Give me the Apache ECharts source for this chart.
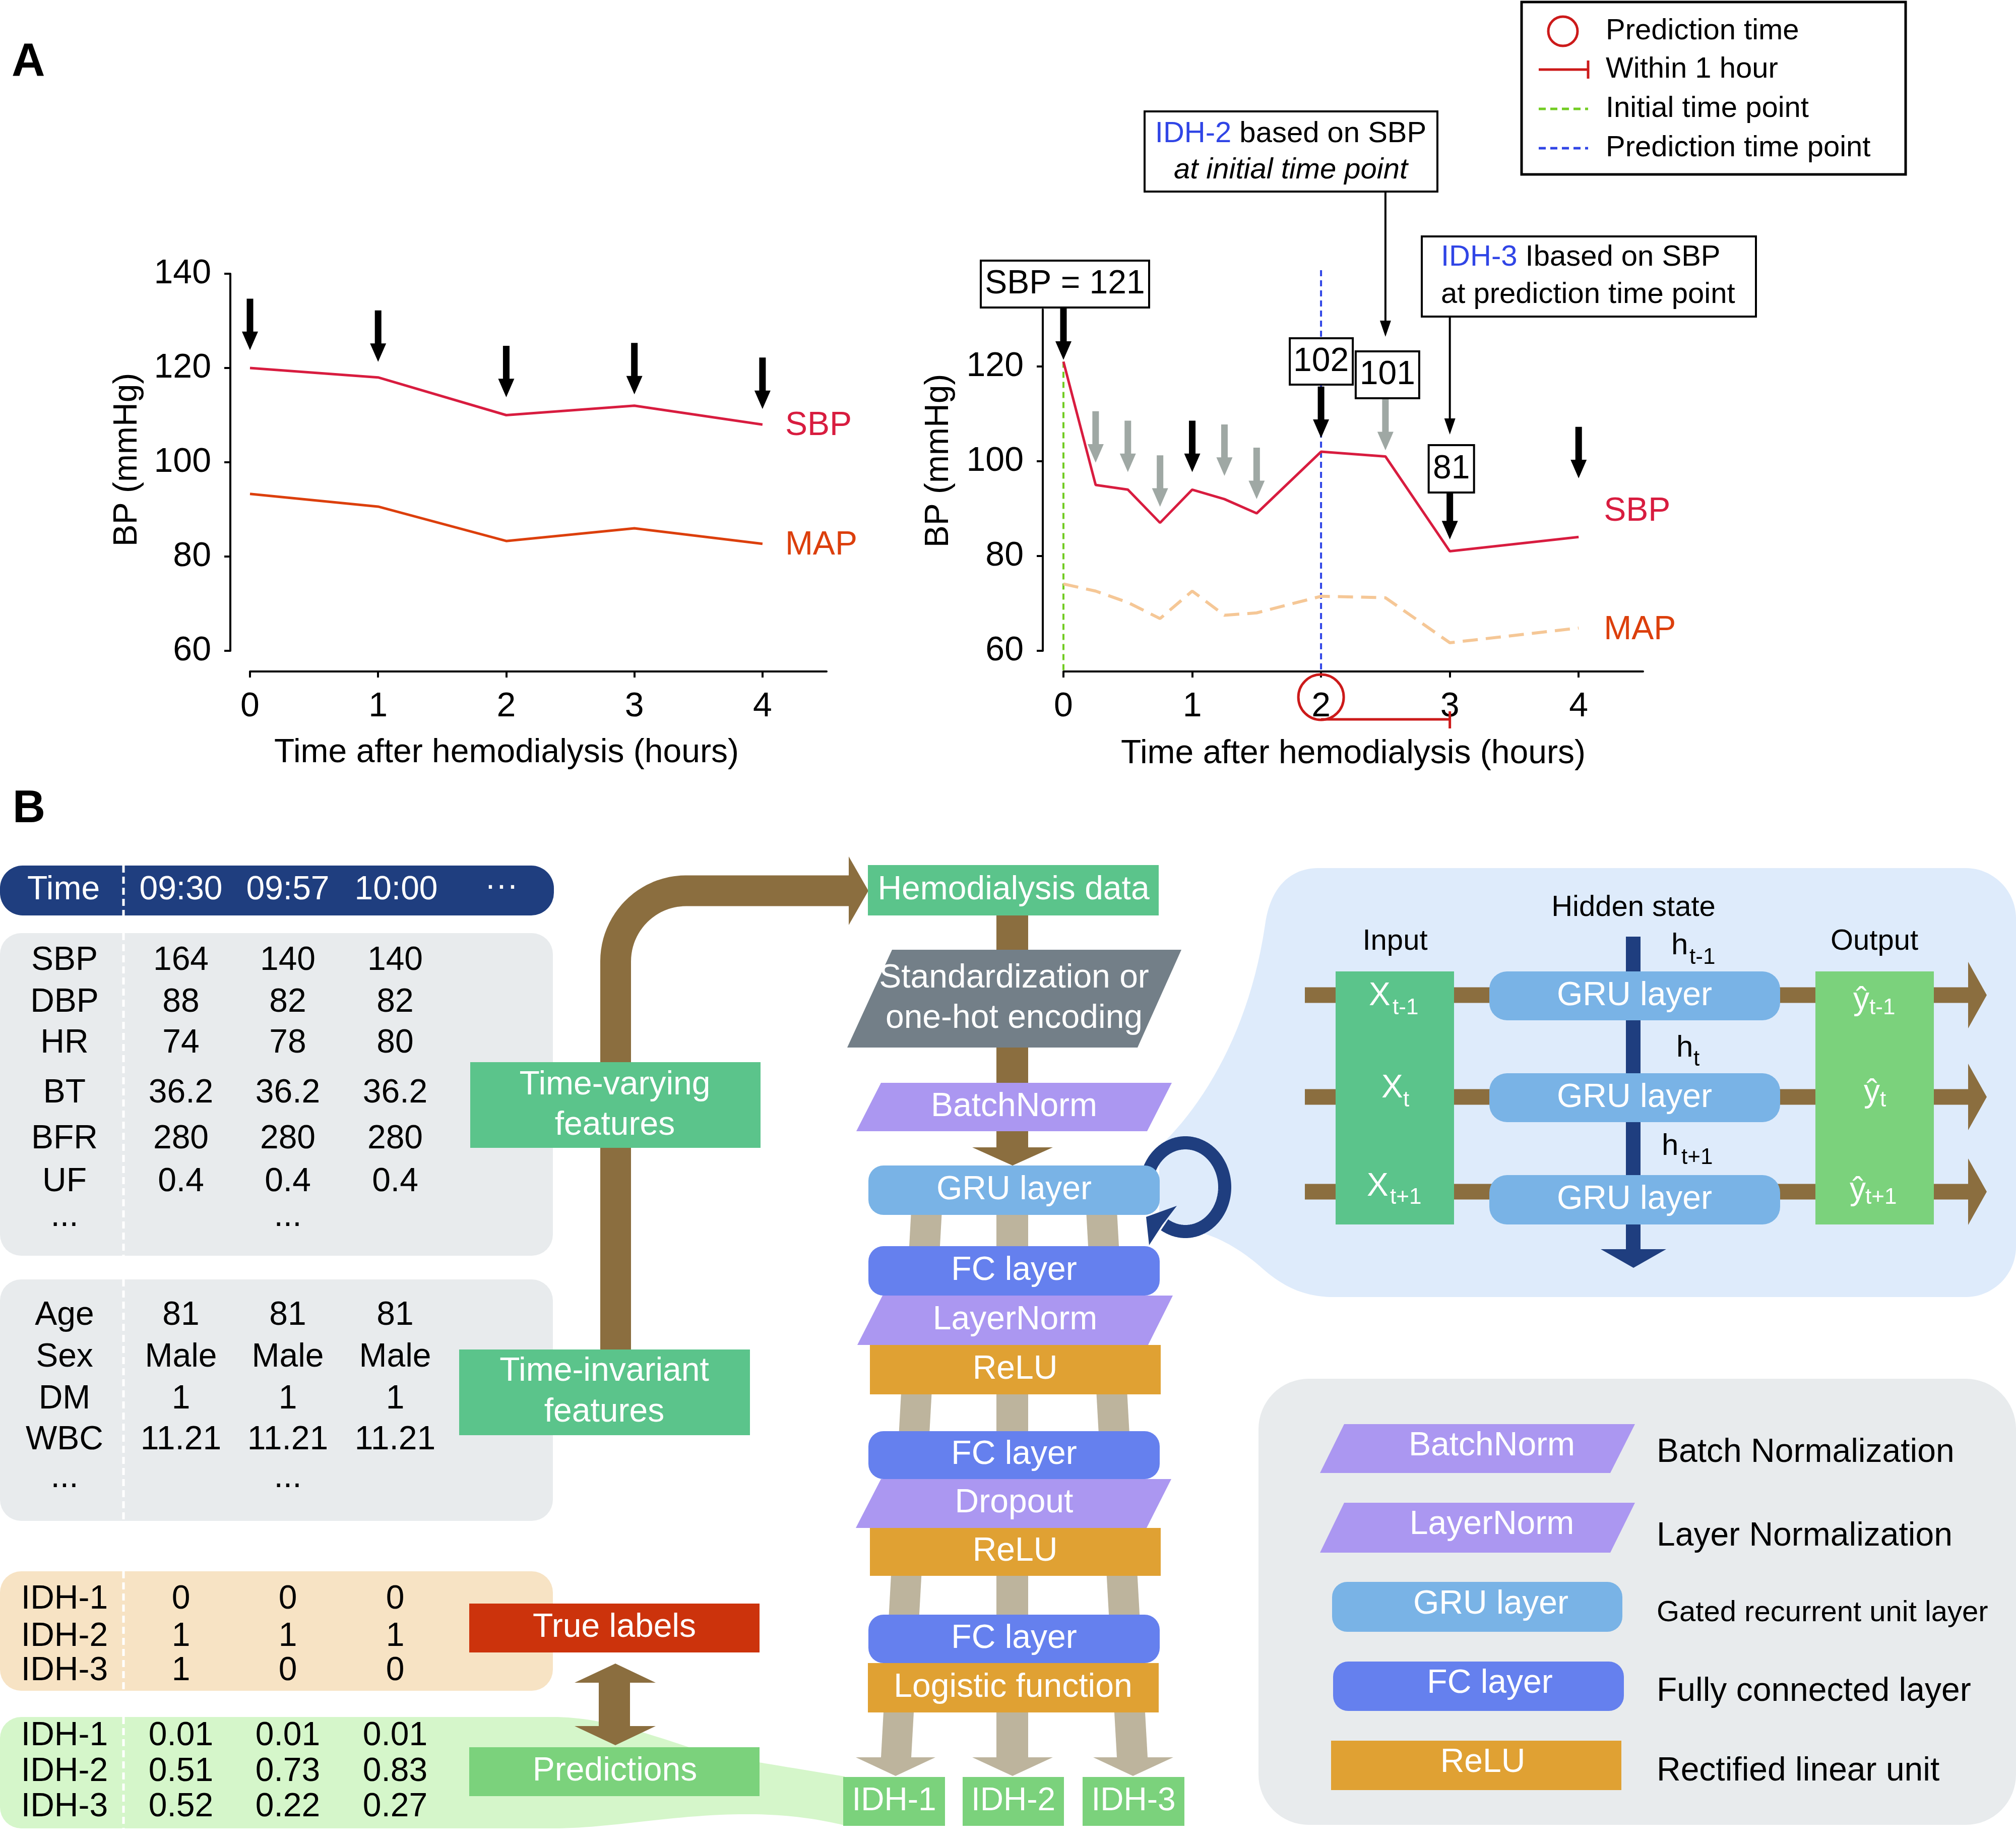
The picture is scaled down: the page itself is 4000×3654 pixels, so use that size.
<!DOCTYPE html>
<html>
<head>
<meta charset="utf-8">
<script src="https://cdn.jsdelivr.net/npm/echarts@6/dist/echarts.min.js"></script>
<style>html,body{margin:0;padding:0;background:#fff}#c{width:4000px;height:3654px}</style>
</head>
<body>
<div id="c"></div>
<script>
const FONT = '"Liberation Sans", Arial, Helvetica, sans-serif';

// ---------------- Panel A data ----------------
const hoursLeft = [0, 1, 2, 3, 4];
const sbpLeft = [120, 118, 110, 112, 108];
const mapLeft = [93.3, 90.6, 83.3, 86.0, 82.7];
const arrowTipLeft = [123.8, 121.3, 113.8, 114.4, 111.3];

const hoursRight = [0, 0.25, 0.5, 0.75, 1, 1.25, 1.5, 2, 2.5, 3, 4];
const sbpRight = [121, 95, 94, 87, 94, 92, 89, 102, 101, 81, 84];
const mapRight = [74.1, 72.6, 70.2, 66.8, 72.6, 67.5, 68.0, 71.5, 71.2, 61.7, 64.8];
const blackArrowHours = [0, 1, 2, 3, 4];
const blackArrowTip = [121.4, 97.7, 104.9, 83.5, 96.4];
const grayArrowHours = [0.25, 0.5, 0.75, 1.25, 1.5, 2.5];
const grayArrowTip = [99.7, 97.7, 90.4, 96.9, 92.0, 102.3];

const xTicks = [0, 1, 2, 3, 4];
const leftYTicks = [60, 80, 100, 120, 140];
const rightYTicks = [60, 80, 100, 120];
const initialTime = 0, predictionTime = 2, horizonTime = 3;

// ---------------- Panel B data ----------------
const timeLabels = ['09:30', '09:57', '10:00'];
const varyingFeatures = ['SBP', 'DBP', 'HR', 'BT', 'BFR', 'UF'];
const varyingValues = [[164, 140, 140], [88, 82, 82], [74, 78, 80], [36.2, 36.2, 36.2], [280, 280, 280], [0.4, 0.4, 0.4]];
const invariantFeatures = ['Age', 'Sex', 'DM', 'WBC'];
const invariantValues = [[81, 81, 81], ['Male', 'Male', 'Male'], [1, 1, 1], [11.21, 11.21, 11.21]];
const idhLabels = ['IDH-1', 'IDH-2', 'IDH-3'];
const trueLabels = [[0, 0, 0], [1, 1, 1], [1, 0, 0]];
const predictions = [[0.01, 0.01, 0.01], [0.51, 0.73, 0.83], [0.52, 0.22, 0.27]];
const legendItems = [
  ['BatchNorm', 'Batch Normalization'],
  ['LayerNorm', 'Layer Normalization'],
  ['GRU layer', 'Gated recurrent unit layer'],
  ['FC layer', 'Fully connected layer'],
  ['ReLU', 'Rectified linear unit']
];

// ---------------- colours ----------------
const C = {
  sbp: '#d81c3f', map: '#dc3f0c', mapLight: '#f5c796', gray: '#9fa8a4',
  navy: '#1f3e7f', brown: '#8b6e3f', tan: '#bdb49d', green: '#5bc48b', lgreen: '#7bd27c',
  tableGray: '#e8ebed', tableOrange: '#f7e3c4', tableGreen: '#d5f6ca', red: '#cc330c',
  stdGray: '#737f88', purple: '#ab97f1', gru: '#79b3e6', fc: '#6580ee', relu: '#e0a133',
  panelBlue: '#deebfb', initGreen: '#72cc22', predBlue: '#3045e6', circleRed: '#cc1a1a'
};

const pairs = (xs, ys) => xs.map((x, i) => [x, ys[i]]);
const ARROW = 'path://M9.5,0L22.5,0L22.5,64L32,64L16,100L0,64L9.5,64Z';

function xAxisCfg(gi) {
  return {
    gridIndex: gi, type: 'value', min: 0, max: 4.5, interval: 1, offset: 41,
    axisLine: { show: true, onZero: false, lineStyle: { color: '#000', width: 4 } },
    axisTick: { show: true, length: 12, lineStyle: { color: '#000', width: 4 }, customValues: xTicks },
    axisLabel: { show: true, customValues: xTicks, fontSize: 68, fontFamily: FONT, color: '#000', margin: 36,
      formatter: v => (xTicks.indexOf(v) >= 0 ? String(v) : '') },
    splitLine: { show: false }
  };
}
function yAxisCfg(gi, max, ticks, off) {
  return {
    gridIndex: gi, type: 'value', min: 60, max: max, interval: 20, offset: off,
    axisLine: { show: true, onZero: false, lineStyle: { color: '#000', width: 4 } },
    axisTick: { show: true, length: 12, lineStyle: { color: '#000', width: 4 }, customValues: ticks },
    axisLabel: { show: true, customValues: ticks, fontSize: 68, fontFamily: FONT, color: '#000', margin: 38,
      formatter: v => (ticks.indexOf(v) >= 0 ? String(v) : '') },
    splitLine: { show: false }
  };
}

const option = {
  animation: false,
  backgroundColor: '#fff',
  textStyle: { fontFamily: FONT },
  grid: [
    { left: 496, top: 543, width: 1144, height: 748 },
    { left: 2110, top: 614, width: 1150, height: 677 }
  ],
  xAxis: [xAxisCfg(0), xAxisCfg(1)],
  yAxis: [yAxisCfg(0, 140, leftYTicks, 39), yAxisCfg(1, 132, rightYTicks, 41)],
  series: [
    { type: 'line', name: 'SBP', xAxisIndex: 0, yAxisIndex: 0, data: pairs(hoursLeft, sbpLeft), symbol: 'none',
      lineStyle: { color: C.sbp, width: 5 }, itemStyle: { color: C.sbp }, z: 3,
      endLabel: { show: true, formatter: 'SBP', color: C.sbp, fontSize: 66, fontFamily: FONT, distance: 45, offset: [0, 3] } },
    { type: 'line', name: 'MAP', xAxisIndex: 0, yAxisIndex: 0, data: pairs(hoursLeft, mapLeft), symbol: 'none',
      lineStyle: { color: C.map, width: 5 }, itemStyle: { color: C.map }, z: 3,
      endLabel: { show: true, formatter: 'MAP', color: C.map, fontSize: 66, fontFamily: FONT, distance: 45, offset: [0, 3] } },
    { type: 'scatter', name: 'BP measurement', xAxisIndex: 0, yAxisIndex: 0, data: pairs(hoursLeft, arrowTipLeft),
      symbol: ARROW, symbolSize: [32, 102], symbolOffset: [0, '-50%'], itemStyle: { color: '#000', opacity: 1 }, z: 4, clip: false },

    { type: 'line', name: 'MAP (right)', xAxisIndex: 1, yAxisIndex: 1, data: pairs(hoursRight, mapRight), symbol: 'none',
      lineStyle: { color: C.mapLight, width: 6, type: [30, 16] }, itemStyle: { color: C.mapLight }, z: 2,
      endLabel: { show: true, formatter: 'MAP', color: C.map, fontSize: 66, fontFamily: FONT, distance: 50, offset: [0, 4] } },
    { type: 'line', name: 'SBP (right)', xAxisIndex: 1, yAxisIndex: 1, data: pairs(hoursRight, sbpRight), symbol: 'none',
      lineStyle: { color: C.sbp, width: 5 }, itemStyle: { color: C.sbp }, z: 3,
      endLabel: { show: true, formatter: 'SBP', color: C.sbp, fontSize: 66, fontFamily: FONT, distance: 50, offset: [0, -51] } },
    { type: 'scatter', name: 'Used measurement', xAxisIndex: 1, yAxisIndex: 1, data: pairs(blackArrowHours, blackArrowTip),
      symbol: ARROW, symbolSize: [32, 102], symbolOffset: [0, '-50%'], itemStyle: { color: '#000', opacity: 1 }, z: 4, clip: false },
    { type: 'scatter', name: 'Other measurement', xAxisIndex: 1, yAxisIndex: 1, data: pairs(grayArrowHours, grayArrowTip),
      symbol: ARROW, symbolSize: [32, 102], symbolOffset: [0, '-50%'], itemStyle: { color: C.gray, opacity: 1 }, z: 4, clip: false }
  ]
};

const chart = echarts.init(document.getElementById('c'), null, { renderer: 'canvas', width: 4000, height: 3654 });
chart.setOption(option);

// ---------------- graphic helpers ----------------
const G = [];
function R(x1, y1, x2, y2, fill, r, z) {
  G.push({ type: 'rect', z: z || 10, silent: true,
    shape: { x: x1, y: y1, width: x2 - x1, height: y2 - y1, r: r || 0 }, style: { fill: fill } });
}
function BOX(x1, y1, x2, y2, w, z) {
  G.push({ type: 'rect', z: z || 20, silent: true, shape: { x: x1, y: y1, width: x2 - x1, height: y2 - y1 },
    style: { fill: '#fff', stroke: '#000', lineWidth: w || 4 } });
}
function PG(pts, fill, z) { G.push({ type: 'polygon', z: z || 10, silent: true, shape: { points: pts }, style: { fill: fill } }); }
function PL(pts, stroke, w, z) { G.push({ type: 'polyline', z: z || 10, silent: true, shape: { points: pts }, style: { stroke: stroke, lineWidth: w, fill: null, lineCap: 'butt', lineJoin: 'round' } }); }
function L(x1, y1, x2, y2, stroke, w, dash, z) {
  G.push({ type: 'line', z: z || 10, silent: true, shape: { x1: x1, y1: y1, x2: x2, y2: y2 },
    style: { stroke: stroke, lineWidth: w, lineDash: dash || null, lineCap: 'butt' } });
}
// sample a path made of M/L/C commands into points
function samplePath(cmds) {
  const pts = []; let cx = 0, cy = 0;
  cmds.forEach(c => {
    if (c[0] === 'M' || c[0] === 'L') { cx = c[1]; cy = c[2]; pts.push([cx, cy]); }
    else if (c[0] === 'C') {
      const [, x1, y1, x2, y2, x, y] = c;
      for (let i = 1; i <= 24; i++) {
        const t = i / 24, u = 1 - t;
        pts.push([u * u * u * cx + 3 * u * u * t * x1 + 3 * u * t * t * x2 + t * t * t * x,
                  u * u * u * cy + 3 * u * u * t * y1 + 3 * u * t * t * y2 + t * t * t * y]);
      }
      cx = x; cy = y;
    }
  });
  return pts;
}
function T(x, y, str, o) {
  o = o || {};
  const st = { text: String(str), fontFamily: FONT, fontSize: o.size || 66, fontWeight: o.weight || 'normal',
    fontStyle: o.italic ? 'italic' : 'normal', fill: o.color || '#000', align: o.align || 'center', verticalAlign: 'middle' };
  if (o.rich) st.rich = o.rich;
  G.push({ type: 'text', x: x, y: y, z: o.z || 30, silent: true, rotation: o.rot || 0, style: st });
}

// ---------------- Panel A overlays ----------------
const pR = (x, y) => chart.convertToPixel({ gridIndex: 1 }, [x, y]);
const xInit = pR(initialTime, 60)[0];
const xPred = pR(predictionTime, 60)[0];
const x25 = pR(2.5, 60)[0];
const xHor = pR(horizonTime, 60)[0];
const yInitSBP = pR(initialTime, sbpRight[0])[1];
const axisY = 1332;

T(23, 125, 'A', { size: 92, weight: 'bold', align: 'left' });
T(1005, 1494, 'Time after hemodialysis (hours)', { size: 66 });
T(253, 912, 'BP (mmHg)', { size: 66, rot: Math.PI / 2 });
T(2685, 1496, 'Time after hemodialysis (hours)', { size: 66 });
T(1863, 914, 'BP (mmHg)', { size: 66, rot: Math.PI / 2 });

// reference time lines
L(xInit, yInitSBP, xInit, axisY, C.initGreen, 4, [12, 8], 1);
L(xPred, 536, xPred, axisY, C.predBlue, 4, [12, 8], 1);

// prediction time circle & within-1-hour bracket
G.push({ type: 'circle', z: 20, silent: true, shape: { cx: xPred, cy: 1383, r: 45 }, style: { fill: null, stroke: C.circleRed, lineWidth: 5 } });
L(xPred, 1427, xHor, 1427, C.circleRed, 5, null, 20);
L(xHor, 1411, xHor, 1445, C.circleRed, 5, null, 20);

// annotation boxes
BOX(xInit - 164, 517, xInit + 170, 610);
T(xInit + 3, 564, 'SBP = ' + sbpRight[0], { size: 66 });
BOX(xPred - 62, 671, xPred + 63, 763);
T(xPred, 718, sbpRight[7], { size: 66 });
BOX(x25 - 59, 697, x25 + 67, 790);
T(x25 + 4, 744, sbpRight[8], { size: 66 });
BOX(xHor - 42, 883, xHor + 48, 977);
T(xHor + 3, 931, sbpRight[9], { size: 66 });

BOX(2271, 221, 2852, 380);
T(2561, 266, '{b|IDH-2} based on SBP', { size: 58, rich: { b: { fill: C.predBlue, color: C.predBlue, fontSize: 58, fontFamily: FONT } } });
T(2561, 338, 'at initial time point', { size: 58, italic: true });
L(x25, 380, x25, 640, '#000', 4, null, 20);
PG([[x25 - 11, 636], [x25 + 11, 636], [x25, 668]], '#000', 20);

BOX(2821, 469, 3484, 628);
T(2859, 511, '{b|IDH-3} Ibased on SBP', { size: 58, align: 'left', rich: { b: { fill: C.predBlue, color: C.predBlue, fontSize: 58, fontFamily: FONT } } });
T(2859, 585, 'at prediction time point', { size: 58, align: 'left' });
L(xHor, 628, xHor, 834, '#000', 4, null, 20);
PG([[xHor - 11, 830], [xHor + 11, 830], [xHor, 862]], '#000', 20);

// legend box
BOX(3019, 4, 3781, 346, 5);
G.push({ type: 'circle', z: 25, silent: true, shape: { cx: 3101, cy: 62, r: 29 }, style: { fill: null, stroke: C.circleRed, lineWidth: 5 } });
L(3053, 138, 3151, 138, C.circleRed, 5, null, 25);
L(3151, 120, 3151, 156, C.circleRed, 5, null, 25);
L(3053, 216, 3151, 216, C.initGreen, 5, [14, 9], 25);
L(3053, 294, 3151, 294, C.predBlue, 5, [14, 9], 25);
T(3186, 62, 'Prediction time', { size: 58, align: 'left' });
T(3186, 138, 'Within 1 hour', { size: 58, align: 'left' });
T(3186, 216, 'Initial time point', { size: 58, align: 'left' });
T(3186, 294, 'Prediction time point', { size: 58, align: 'left' });

// ---------------- Panel B ----------------
T(25, 1606, 'B', { size: 90, weight: 'bold', align: 'left' });
const labelX = 128;
const colX = [359, 571, 784];
const W = '#fff';

// time bar
R(0, 1717, 1099, 1816, C.navy, 45, 5);
T(126, 1766, 'Time', { color: W });
timeLabels.forEach((t, i) => T([359, 571, 786][i], 1766, t, { color: W }));
T(995, 1760, '···', { color: W });
L(245, 1717, 245, 1816, W, 5, [14, 8], 6);

// time-varying table
R(0, 1851, 1097, 2491, C.tableGray, 42, 5);
L(245, 1851, 245, 2491, W, 5, [14, 8], 6);
const rowVary = [1906, 1989, 2070, 2169, 2260, 2345];
varyingFeatures.forEach((f, r) => {
  T(labelX, rowVary[r], f);
  varyingValues[r].forEach((v, c) => T(colX[c], rowVary[r], v));
});
T(labelX, 2414, '...'); T(colX[1], 2414, '...');

// time-invariant table
R(0, 2538, 1097, 3017, C.tableGray, 42, 5);
L(245, 2538, 245, 3017, W, 5, [14, 8], 6);
const rowInv = [2610, 2693, 2776, 2857];
invariantFeatures.forEach((f, r) => {
  T(labelX, rowInv[r], f);
  invariantValues[r].forEach((v, c) => T(colX[c], rowInv[r], v));
});
T(labelX, 2932, '...'); T(colX[1], 2932, '...');

// true labels table
R(0, 3117, 1097, 3354, C.tableOrange, 42, 5);
L(245, 3117, 245, 3354, W, 5, [14, 8], 6);
const rowTrue = [3173, 3247, 3315];
idhLabels.forEach((f, r) => {
  T(labelX, rowTrue[r], f);
  trueLabels[r].forEach((v, c) => T(colX[c], rowTrue[r], v));
});

// predictions table + band to IDH-1 output
R(0, 3406, 1097, 3627, C.tableGreen, [42, 0, 0, 42], 5);
PG(samplePath([['M', 1090, 3406], ['L', 1096, 3406], ['C', 1180, 3406, 1260, 3430, 1367, 3466], ['C', 1430, 3485, 1500, 3495, 1676, 3524],
  ['L', 1676, 3621], ['C', 1600, 3603, 1530, 3596, 1430, 3600], ['C', 1300, 3606, 1200, 3627, 1096, 3627], ['L', 1090, 3627]]), C.tableGreen, 5);
L(245, 3406, 245, 3627, W, 5, [14, 8], 6);
const rowPred = [3444, 3515, 3585];
idhLabels.forEach((f, r) => {
  T(labelX, rowPred[r], f);
  predictions[r].forEach((v, c) => T(colX[c], rowPred[r], v));
});

// brown feature pipe
PL(samplePath([['M', 1221.5, 2677], ['L', 1221.5, 1907], ['C', 1221.5, 1830, 1284, 1767, 1361, 1767], ['L', 1688, 1767]]), C.brown, 61, 7);
PG([[1684, 1699], [1723, 1767], [1684, 1835]], C.brown, 7);

R(933, 2107, 1509, 2277, C.green, 0, 12);
T(1220, 2153, 'Time-varying', { color: W }); T(1220, 2233, 'features', { color: W });
R(911, 2677, 1488, 2847, C.green, 0, 12);
T(1199, 2721, 'Time-invariant', { color: W }); T(1199, 2802, 'features', { color: W });
R(931, 3181, 1507, 3278, C.red, 0, 12);
T(1219, 3229, 'True labels', { color: W });
R(931, 3466, 1507, 3563, C.lgreen, 0, 12);
T(1220, 3514, 'Predictions', { color: W });
PG([[1221, 3300], [1301, 3338], [1250, 3338], [1250, 3424], [1301, 3424], [1221, 3462], [1140, 3424], [1188, 3424], [1188, 3338], [1140, 3338]], C.brown, 12);

// ---- middle column ----
R(1977, 1816, 2040, 2276, C.brown, 0, 7);
PG([[1929, 2276], [2089, 2276], [2009, 2312]], C.brown, 7);
PG([[1808, 2400], [1869, 2400], [1808, 3486], [1748, 3486]], C.tan, 7);
PG([[1977, 2400], [2040, 2400], [2040, 3486], [1977, 3486]], C.tan, 7);
PG([[2155, 2400], [2216, 2400], [2277, 3486], [2216, 3486]], C.tan, 7);
PG([[1698, 3486], [1856, 3486], [1777, 3523]], C.tan, 7);
PG([[1929, 3486], [2089, 3486], [2009, 3523]], C.tan, 7);
PG([[2169, 3486], [2328, 3486], [2248, 3523]], C.tan, 7);

R(1722, 1716, 2299, 1816, C.green, 0, 12);
T(2011, 1766, 'Hemodialysis data', { color: W });
PG([[1770, 1884], [2344, 1884], [2257, 2078], [1681, 2078]], C.stdGray, 12);
T(2012, 1941, 'Standardization or', { color: W });
T(2012, 2021, 'one-hot encoding', { color: W });
PG([[1748, 2148], [2325, 2148], [2276, 2244], [1699, 2244]], C.purple, 12);
T(2012, 2196, 'BatchNorm', { color: W });

// recurrent loop (ellipse arc + head)
(function () {
  const pts = []; const cx = 2352, cy = 2355, rx = 78, ry = 88;
  for (let a = -158; a <= 122; a += 2) {
    const t = a * Math.PI / 180; pts.push([cx + rx * Math.cos(t), cy + ry * Math.sin(t)]);
  }
  PL(pts, C.navy, 26, 9);
  PG([[2274, 2414], [2335, 2392], [2306, 2430], [2280, 2470]], C.navy, 9);
})();

R(1723, 2312, 2301, 2410, C.gru, 30, 12);
T(2012, 2361, 'GRU layer', { color: W });
R(1723, 2472, 2301, 2570, C.fc, 30, 12);
T(2012, 2521, 'FC layer', { color: W });
PG([[1751, 2570], [2327, 2570], [2278, 2668], [1701, 2668]], C.purple, 12);
T(2014, 2619, 'LayerNorm', { color: W });
R(1726, 2668, 2303, 2766, C.relu, 0, 12);
T(2014, 2717, 'ReLU', { color: W });
R(1723, 2839, 2301, 2934, C.fc, 30, 12);
T(2012, 2886, 'FC layer', { color: W });
PG([[1748, 2934], [2324, 2934], [2275, 3031], [1698, 3031]], C.purple, 12);
T(2012, 2982, 'Dropout', { color: W });
R(1726, 3031, 2303, 3126, C.relu, 0, 12);
T(2014, 3078, 'ReLU', { color: W });
R(1723, 3203, 2301, 3299, C.fc, 30, 12);
T(2012, 3251, 'FC layer', { color: W });
R(1722, 3299, 2299, 3397, C.relu, 0, 12);
T(2010, 3348, 'Logistic function', { color: W });
[[1673, 1875], [1910, 2111], [2148, 2350]].forEach((b, i) => {
  R(b[0], 3525, b[1], 3622, C.lgreen, 0, 12);
  T((b[0] + b[1]) / 2, 3573, idhLabels[i], { color: W, size: 64 });
});

// ---- GRU unrolled panel ----
PG(samplePath([['M', 2616, 1722], ['L', 3900, 1722], ['C', 3955, 1722, 4000, 1767, 4000, 1822], ['L', 4000, 2473],
  ['C', 4000, 2528, 3955, 2573, 3900, 2573], ['L', 2640, 2573], ['C', 2580, 2571, 2540, 2548, 2500, 2512],
  ['C', 2460, 2478, 2410, 2445, 2340, 2436], ['L', 2300, 2420], ['L', 2300, 2275],
  ['C', 2390, 2190, 2480, 2040, 2510, 1835], ['C', 2520, 1760, 2560, 1722, 2616, 1722]]), C.panelBlue, 3);
[1974, 2176, 2364].forEach(cy => {
  R(2589, cy - 15.5, 3905, cy + 15.5, C.brown, 0, 7);
  PG([[3905, cy - 66], [3942, cy], [3905, cy + 66]], C.brown, 7);
});
R(3226, 1858, 3255, 2478, C.navy, 0, 7);
PG([[3176, 2478], [3306, 2478], [3241, 2515]], C.navy, 7);
R(2650, 1927, 2885, 2429, C.green, 0, 12);
R(3602, 1927, 3837, 2429, C.lgreen, 0, 12);
[[1927, 2024], [2129, 2226], [2331, 2429]].forEach(b => {
  R(2955, b[0], 3532, b[1], C.gru, 35, 12);
  T(3243, (b[0] + b[1]) / 2, 'GRU layer', { color: W });
});
T(3241, 1801, 'Hidden state', { size: 58 });
T(2768, 1868, 'Input', { size: 58 });
T(3719, 1868, 'Output', { size: 58 });
function SUB(xm, ym, main, sub, xs, ys, color, msize) {
  T(xm, ym, main, { color: color, size: msize || 64, align: 'left' });
  T(xs, ys, sub, { color: color, size: 44, align: 'left' });
}
SUB(2716, 1976, 'X', 't-1', 2763, 2000, W);
SUB(2741, 2159, 'X', 't', 2784, 2183, W);
SUB(2712, 2354, 'X', 't+1', 2758, 2376, W);
SUB(3677, 1985, 'ŷ', 't-1', 3709, 2000, W);
SUB(3698, 2168, 'ŷ', 't', 3730, 2183, W);
SUB(3670, 2362, 'ŷ', 't+1', 3701, 2376, W);
SUB(3316, 1876, 'h', 't-1', 3352, 1900, '#000', 60);
SUB(3326, 2079, 'h', 't', 3360, 2102, '#000', 60);
SUB(3297, 2274, 'h', 't+1', 3336, 2297, '#000', 60);

// ---- legend panel ----
R(2497, 2735, 4000, 3620, C.tableGray, 100, 3);
PG([[2667, 2825], [3244, 2825], [3195, 2922], [2619, 2922]], C.purple, 12);
T(2960, 2869, legendItems[0][0], { color: W });
PG([[2667, 2981], [3244, 2981], [3195, 3080], [2619, 3080]], C.purple, 12);
T(2960, 3025, legendItems[1][0], { color: W });
R(2643, 3138, 3219, 3237, C.gru, 30, 12);
T(2958, 3183, legendItems[2][0], { color: W });
R(2645, 3296, 3222, 3394, C.fc, 30, 12);
T(2956, 3340, legendItems[3][0], { color: W });
R(2641, 3453, 3217, 3551, C.relu, 0, 12);
T(2942, 3497, legendItems[4][0], { color: W });
const descY = [2882, 3048, 3200, 3356, 3514];
legendItems.forEach((it, i) => T(3287, descY[i], it[1], { align: 'left', size: i === 2 ? 58 : 66 }));

chart.setOption({ graphic: { elements: G } });
</script>
</body>
</html>
